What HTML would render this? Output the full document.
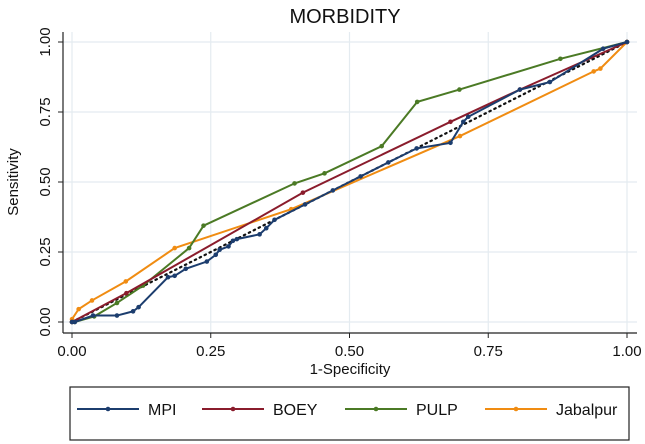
<!DOCTYPE html>
<html><head><meta charset="utf-8"><style>
html,body{margin:0;padding:0;background:#fff;}
svg{display:block;font-family:"Liberation Sans",sans-serif;}
</style></head><body>
<svg id="c" width="645" height="444" viewBox="0 0 645 444">
<text x="345" y="23" font-size="20" text-anchor="middle" fill="#111">MORBIDITY</text>
<text x="350" y="374" font-size="15" text-anchor="middle" fill="#111">1-Specificity</text>
<text transform="translate(18,182) rotate(-90)" font-size="15" text-anchor="middle" fill="#111">Sensitivity</text>
<g id="grid"></g><g id="axes"></g><g id="series"></g>
<rect x="70" y="387" width="559" height="53" fill="#fff" stroke="#222" stroke-width="1.2"/>
<g id="legend"></g>
</svg>
<script>
const ticks=[0,0.25,0.5,0.75,1];
const tickLabels=["0.00","0.25","0.50","0.75","1.00"];
const names=["MPI","BOEY","PULP","Jabalpur"];
const colors=["#1c3d6e","#8a1c2c","#4b7a25","#f08c12"];
const mpiX=[0,0.005,0.038,0.081,0.11,0.12,0.173,0.185,0.205,0.243,0.259,0.266,0.282,0.29,0.297,0.338,0.35,0.365,0.42,0.47,0.52,0.57,0.621,0.682,0.705,0.714,0.807,0.861,0.957,1];
const mpiY=[0,0,0.023,0.023,0.038,0.053,0.16,0.165,0.19,0.216,0.24,0.258,0.27,0.29,0.296,0.313,0.335,0.365,0.42,0.47,0.52,0.57,0.62,0.64,0.715,0.733,0.83,0.857,0.976,1];
const boeyX=[0,0.098,0.416,0.682,0.807,1];
const boeyY=[0,0.103,0.462,0.715,0.83,1];
const pulpX=[0,0.005,0.04,0.081,0.128,0.211,0.237,0.401,0.455,0.558,0.622,0.698,0.88,1];
const pulpY=[0,0,0.02,0.068,0.13,0.264,0.344,0.495,0.531,0.628,0.786,0.83,0.94,1];
const jabX=[0,0.012,0.036,0.097,0.185,0.395,0.699,0.94,0.952,1];
const jabY=[0.01,0.046,0.077,0.145,0.264,0.403,0.664,0.895,0.905,1];
const NS="http://www.w3.org/2000/svg";
const X=v=>72+v*555, Y=v=>322-v*280;
function mk(p,t,a){const e=document.createElementNS(NS,t);for(const k in a)e.setAttribute(k,a[k]);p.appendChild(e);return e;}
const g=document.getElementById('grid'),ax=document.getElementById('axes'),s=document.getElementById('series'),lg=document.getElementById('legend');
ticks.forEach((t,i)=>{
 let l=mk(g,'line',{x1:X(t),x2:X(t),y1:32,y2:333,stroke:'#e4ebf0','stroke-width':1.2});
 
 l=mk(g,'line',{x1:63,x2:637,y1:Y(t),y2:Y(t),stroke:'#e4ebf0','stroke-width':1.2});
 
 mk(ax,'line',{x1:X(t),x2:X(t),y1:333,y2:338,stroke:'#222'});
 mk(ax,'line',{x1:58,x2:63,y1:Y(t),y2:Y(t),stroke:'#222'});
 let tx=mk(ax,'text',{x:X(t),y:356,'font-size':15,'text-anchor':'middle',fill:'#111'});tx.textContent=tickLabels[i];
 
 tx=mk(ax,'text',{transform:`translate(50,${Y(t)}) rotate(-90)`,'font-size':15,'text-anchor':'middle',fill:'#111'});tx.textContent=tickLabels[i];
 
});
mk(ax,'line',{x1:63,x2:63,y1:32,y2:333,stroke:'#222','stroke-width':1.2});
mk(ax,'line',{x1:63,x2:637,y1:333,y2:333,stroke:'#222','stroke-width':1.2});
const ref=mk(s,'line',{x1:X(0),y1:Y(0),x2:X(1),y2:Y(1),stroke:'#111','stroke-width':2.2,'stroke-dasharray':'1.5 4','stroke-linecap':'round'});


const data=[[mpiX,mpiY],[boeyX,boeyY],[pulpX,pulpY],[jabX,jabY]];
[3,2,1,0].forEach(i=>{
 const [xs,ys]=data[i];
 const p=mk(s,'polyline',{points:xs.map((x,j)=>X(x)+','+Y(ys[j])).join(' '),fill:'none',stroke:colors[i],'stroke-width':2});
 
 
 xs.forEach((x,j)=>{const c=mk(s,'circle',{cx:X(x),cy:Y(ys[j]),r:2.3,fill:colors[i]});
  
  });
});
const lx=[77,202,345,485];
names.forEach((n,i)=>{
 const e=mk(lg,'g',{});
 
 
 mk(e,'line',{x1:lx[i],x2:lx[i]+62,y1:409,y2:409,stroke:colors[i],'stroke-width':2});
 mk(e,'circle',{cx:lx[i]+31,cy:409,r:2.3,fill:colors[i]});
 const t=mk(e,'text',{x:lx[i]+71,y:415,'font-size':16,fill:'#111'});t.textContent=n;
});
</script>
</body></html>
